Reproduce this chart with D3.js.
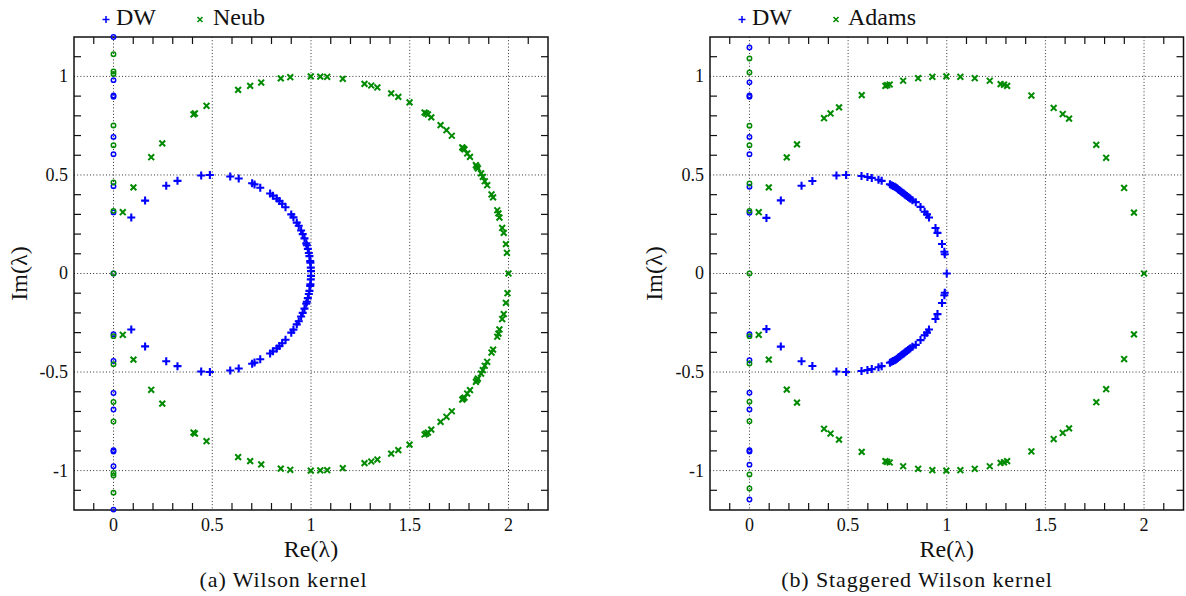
<!DOCTYPE html>
<html><head><meta charset="utf-8">
<script src="https://cdn.jsdelivr.net/npm/d3@7"></script>
<style>body{margin:0;background:#fff}svg{display:block}</style>
</head><body><svg id="c" width="1186" height="596"></svg>
<script>
// ---------- data (Re, Im) ----------
const wilsonDW = [
[0.090,0.284],[0.160,0.370],[0.267,0.445],[0.324,0.470],[0.444,0.497],[0.488,0.500],[0.591,0.492],[0.634,0.482],
[0.702,0.458],[0.714,0.452],[0.743,0.435],[0.793,0.406],[0.807,0.395],[0.827,0.380],[0.840,0.368],[0.854,0.354],
[0.871,0.336],[0.900,0.300],[0.911,0.285],[0.928,0.258],[0.938,0.242],[0.950,0.218],[0.958,0.200],[0.967,0.178],
[0.976,0.153],[0.979,0.143],[0.984,0.125],[0.989,0.104],[0.992,0.088],[0.996,0.063],[0.997,0.055],[0.999,0.030],[1.000,0.012],
[0.090,-0.284],[0.160,-0.370],[0.267,-0.445],[0.324,-0.470],[0.444,-0.497],[0.488,-0.500],[0.591,-0.492],[0.634,-0.482],
[0.702,-0.458],[0.714,-0.452],[0.743,-0.435],[0.793,-0.406],[0.807,-0.395],[0.827,-0.380],[0.840,-0.368],[0.854,-0.354],
[0.871,-0.336],[0.900,-0.300],[0.911,-0.285],[0.928,-0.258],[0.938,-0.242],[0.950,-0.218],[0.958,-0.200],[0.967,-0.178],
[0.976,-0.153],[0.979,-0.143],[0.984,-0.125],[0.989,-0.104],[0.992,-0.088],[0.996,-0.063],[0.997,-0.055],[0.999,-0.030],[1.000,-0.012]
];
const wilsonDWImag = [1.200,0.981,0.903,0.897,0.693,0.605,0.443,0.310,0,-0.308,-0.444,-0.606,-0.690,-0.897,-0.903,-0.978,-1.198];
const neub = [
[0.047,0.311],[0.101,0.437],[0.191,0.590],[0.247,0.660],[0.405,0.807],[0.412,0.812],[0.471,0.851],[0.631,0.932],
[0.692,0.952],[0.748,0.969],[0.847,0.990],[0.895,0.996],[0.999,1.000],[1.047,0.999],[1.082,0.998],[1.161,0.988],
[1.271,0.962],[1.305,0.954],[1.336,0.944],[1.406,0.914],[1.442,0.896],[1.499,0.868],[1.575,0.817],[1.583,0.812],
[1.592,0.807],[1.609,0.792],[1.656,0.753],[1.686,0.727],[1.713,0.699],[1.766,0.640],[1.771,0.635],[1.777,0.630],
[1.791,0.609],[1.805,0.592],[1.835,0.550],[1.840,0.541],[1.845,0.533],[1.861,0.508],[1.870,0.490],[1.880,0.468],
[1.892,0.448],[1.914,0.401],[1.922,0.386],[1.943,0.321],[1.949,0.305],[1.954,0.284],[1.968,0.231],[1.976,0.206],
[1.987,0.149],[1.992,0.105],[2.000,0.000],
[0.047,-0.311],[0.101,-0.437],[0.191,-0.590],[0.247,-0.660],[0.405,-0.807],[0.412,-0.812],[0.471,-0.851],[0.631,-0.932],
[0.692,-0.952],[0.748,-0.969],[0.847,-0.990],[0.895,-0.996],[0.999,-1.000],[1.047,-0.999],[1.082,-0.998],[1.161,-0.988],
[1.271,-0.962],[1.305,-0.954],[1.336,-0.944],[1.406,-0.914],[1.442,-0.896],[1.499,-0.868],[1.575,-0.817],[1.583,-0.812],
[1.592,-0.807],[1.609,-0.792],[1.656,-0.753],[1.686,-0.727],[1.713,-0.699],[1.766,-0.640],[1.771,-0.635],[1.777,-0.630],
[1.791,-0.609],[1.805,-0.592],[1.835,-0.550],[1.840,-0.541],[1.845,-0.533],[1.861,-0.508],[1.870,-0.490],[1.880,-0.468],
[1.892,-0.448],[1.914,-0.401],[1.922,-0.386],[1.943,-0.321],[1.949,-0.305],[1.954,-0.284],[1.968,-0.231],[1.976,-0.206],
[1.987,-0.149],[1.995,-0.100]
];
const neubImag = [1.113,1.025,1.012,0.751,0.651,0.462,0.318,0,-0.318,-0.460,-0.652,-0.751,-1.012,-1.025,-1.112];

const staggDW = [
[0.086,0.282],[0.159,0.371],[0.264,0.445],[0.319,0.469],[0.441,0.497],[0.490,0.500],[0.568,0.495],[0.598,0.490],
[0.620,0.485],[0.654,0.476],[0.670,0.470],[0.712,0.453],[0.720,0.448],[0.728,0.444],[0.736,0.440],[0.742,0.436],
[0.748,0.432],[0.753,0.428],[0.758,0.424],[0.764,0.420],[0.770,0.415],[0.776,0.410],[0.782,0.406],[0.787,0.401],
[0.792,0.397],[0.798,0.393],[0.804,0.388],[0.810,0.384],[0.816,0.379],[0.826,0.372],[0.843,0.362],[0.867,0.338],
[0.888,0.313],[0.900,0.300],[0.910,0.284],[0.943,0.231],[0.953,0.206],[0.976,0.150],[0.988,0.110],[0.990,0.098],[1.000,0.000],
[0.086,-0.282],[0.159,-0.371],[0.264,-0.445],[0.319,-0.469],[0.441,-0.497],[0.490,-0.500],[0.568,-0.495],[0.598,-0.490],
[0.620,-0.485],[0.654,-0.476],[0.670,-0.470],[0.712,-0.453],[0.720,-0.448],[0.728,-0.444],[0.736,-0.440],[0.742,-0.436],
[0.748,-0.432],[0.753,-0.428],[0.758,-0.424],[0.764,-0.420],[0.770,-0.415],[0.776,-0.410],[0.782,-0.406],[0.787,-0.401],
[0.792,-0.397],[0.798,-0.393],[0.804,-0.388],[0.810,-0.384],[0.816,-0.379],[0.826,-0.372],[0.843,-0.362],[0.867,-0.338],
[0.888,-0.313],[0.900,-0.300],[0.910,-0.284],[0.943,-0.231],[0.953,-0.206],[0.976,-0.150],[0.988,-0.110],[0.990,-0.098]
];
const staggDWImag = [1.147,0.970,0.903,0.897,0.693,0.605,0.440,0.308,-0.308,-0.440,-0.605,-0.690,-0.897,-0.903,-0.970,-1.147];
const adams = [
[0.047,0.311],[0.098,0.437],[0.189,0.589],[0.241,0.655],[0.378,0.788],[0.411,0.812],[0.454,0.843],[0.569,0.905],
[0.689,0.952],[0.698,0.956],[0.711,0.959],[0.779,0.978],[0.855,0.991],[0.927,0.998],[0.998,1.000],[1.069,0.998],
[1.142,0.991],[1.218,0.978],[1.273,0.961],[1.290,0.958],[1.306,0.952],[1.429,0.903],[1.542,0.840],[1.588,0.809],
[1.620,0.786],[1.758,0.653],[1.808,0.587],[1.899,0.434],[1.949,0.309],[2.000,0.000],
[0.047,-0.311],[0.098,-0.437],[0.189,-0.589],[0.241,-0.655],[0.378,-0.788],[0.411,-0.812],[0.454,-0.843],[0.569,-0.905],
[0.689,-0.952],[0.698,-0.956],[0.711,-0.959],[0.779,-0.978],[0.855,-0.991],[0.927,-0.998],[0.998,-1.000],[1.069,-0.998],
[1.142,-0.991],[1.218,-0.978],[1.273,-0.961],[1.290,-0.958],[1.306,-0.952],[1.429,-0.903],[1.542,-0.840],[1.588,-0.809],
[1.620,-0.786],[1.758,-0.653],[1.808,-0.587],[1.899,-0.434],[1.949,-0.309]
];
const adamsImag = [1.091,1.020,0.750,0.651,0.457,0.318,0,-0.318,-0.457,-0.651,-0.750,-1.020,-1.091];

const xTickLabels = ["0","0.5","1","1.5","2"];
const yTickLabels = ["-1","-0.5","0","0.5","1"];
const xMajor = [0,0.5,1,1.5,2];
const yMajor = [-1,-0.5,0,0.5,1];
const xDomain = [-0.2,2.2], yDomain = [-1.2,1.2];

const BLUE = "#0000ff", GREEN = "#008a00";
const FONT = "'Liberation Serif', 'DejaVu Serif', 'Times New Roman', serif";

const panels = [
  {left:74, right:548, dw:wilsonDW, dwImag:wilsonDWImag, other:neub, otherImag:neubImag,
   names:["DW","Neub"], legX:[106,200], legTX:[116,213], caption:"(a) Wilson kernel", capX:283.5, ylabX:27},
  {left:710, right:1183.5, dw:staggDW, dwImag:staggDWImag, other:adams, otherImag:adamsImag,
   names:["DW","Adams"], legX:[742,836], legTX:[752,848], caption:"(b) Staggered Wilson kernel", capX:917, ylabX:662}
];
const plotTop = 37, plotBottom = 510;
const svg = d3.select("#c");

function plus(g, x, y, s, w){ g.append("path").attr("d",`M${x-s},${y}H${x+s}M${x},${y-s}V${y+s}`).attr("stroke",BLUE).attr("stroke-width",w).attr("fill","none"); }
function cross(g, x, y, s, w){ g.append("path").attr("d",`M${x-s},${y-s}L${x+s},${y+s}M${x-s},${y+s}L${x+s},${y-s}`).attr("stroke",GREEN).attr("stroke-width",w).attr("fill","none"); }
function txt(g){ return g.append("text").attr("font-family",FONT).attr("fill","#111"); }

panels.forEach(p => {
  const x = d3.scaleLinear().domain(xDomain).range([p.left, p.right]);
  const y = d3.scaleLinear().domain(yDomain).range([plotBottom, plotTop]);
  const g = svg.append("g");
  // grid
  g.selectAll(".gx").data(xMajor).join("line").attr("x1",d=>x(d)).attr("x2",d=>x(d)).attr("y1",plotTop).attr("y2",plotBottom)
    .attr("stroke","#333").attr("stroke-width",1).attr("stroke-dasharray","1,2.2");
  g.selectAll(".gy").data(yMajor).join("line").attr("y1",d=>y(d)).attr("y2",d=>y(d)).attr("x1",p.left).attr("x2",p.right)
    .attr("stroke","#333").attr("stroke-width",1).attr("stroke-dasharray","1,2.2");
  // minor ticks (inward, all sides)
  const xMinor = d3.range(-1,22).map(i=>i/10).filter(v=>Math.abs(v*2-Math.round(v*2))>1e-6);
  const yMinor = d3.range(-11,12).map(i=>i/10).filter(v=>Math.abs(v*2-Math.round(v*2))>1e-6);
  const tl = 7;
  xMinor.forEach(v=>{
    g.append("line").attr("x1",x(v)).attr("x2",x(v)).attr("y1",plotBottom).attr("y2",plotBottom-tl).attr("stroke","#111").attr("stroke-width",1.2);
    g.append("line").attr("x1",x(v)).attr("x2",x(v)).attr("y1",plotTop).attr("y2",plotTop+tl).attr("stroke","#111").attr("stroke-width",1.2);
  });
  yMinor.forEach(v=>{
    g.append("line").attr("y1",y(v)).attr("y2",y(v)).attr("x1",p.left).attr("x2",p.left+tl).attr("stroke","#111").attr("stroke-width",1.2);
    g.append("line").attr("y1",y(v)).attr("y2",y(v)).attr("x1",p.right).attr("x2",p.right-tl).attr("stroke","#111").attr("stroke-width",1.2);
  });
  // frame
  g.append("rect").attr("x",p.left).attr("y",plotTop).attr("width",p.right-p.left).attr("height",plotBottom-plotTop)
    .attr("fill","none").attr("stroke","#111").attr("stroke-width",1.5);
  // tick labels
  xMajor.forEach((v,i)=> txt(g).attr("x",x(v)).attr("y",plotBottom+21).attr("text-anchor","middle").attr("font-size",18).text(xTickLabels[i]));
  yMajor.forEach((v,i)=> txt(g).attr("x",p.left-6).attr("y",y(v)).attr("dy","0.33em").attr("text-anchor","end").attr("font-size",18).text(yTickLabels[i]));
  // axis titles
  txt(g).attr("x",(p.left+p.right)/2).attr("y",557).attr("text-anchor","middle").attr("font-size",24).text("Re(λ)");
  txt(g).attr("transform",`translate(${p.ylabX},${y(0)}) rotate(-90)`).attr("text-anchor","middle").attr("font-size",24).text("Im(λ)");
  // caption
  txt(g).attr("x",p.capX).attr("y",587).attr("text-anchor","middle").attr("font-size",22).attr("letter-spacing","0.9px").text(p.caption);
  // legend
  plus(g, p.legX[0], 19.5, 3.5, 1.5);
  txt(g).attr("x",p.legTX[0]).attr("y",25).attr("font-size",24).text(p.names[0]);
  cross(g, p.legX[1], 19.5, 2.5, 1.5);
  txt(g).attr("x",p.legTX[1]).attr("y",25).attr("font-size",24).text(p.names[1]);
  // marks
  const m = g.append("g");
  p.dw.forEach(d=>plus(m, x(d[0]), y(d[1]), 4, 2.1));
  p.dwImag.forEach(v=> m.append("circle").attr("cx",x(0)).attr("cy",y(v)).attr("r",2.2).attr("fill","none").attr("stroke",BLUE).attr("stroke-width",1.5));
  p.other.forEach(d=>cross(m, x(d[0]), y(d[1]), 2.9, 2));
  p.otherImag.forEach(v=> m.append("circle").attr("cx",x(0)).attr("cy",y(v)).attr("r",2.2).attr("fill","none").attr("stroke",GREEN).attr("stroke-width",1.5));
});
</script></body></html>
